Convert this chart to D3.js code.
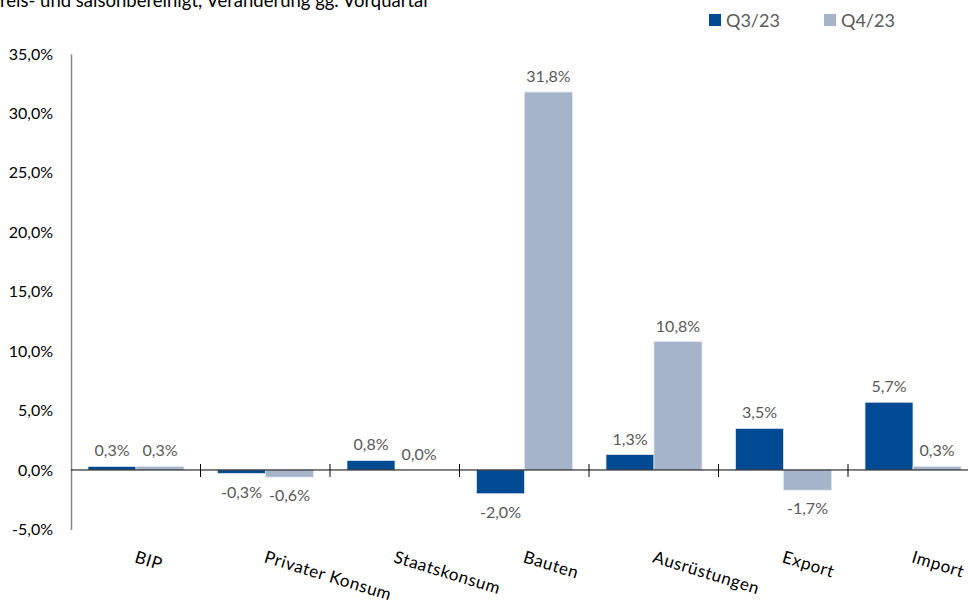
<!DOCTYPE html>
<html>
<head>
<meta charset="utf-8">
<script src="https://cdn.jsdelivr.net/npm/d3@7"></script>
<style>
  body { margin: 0; background: #fff; }
  svg { display: block; font-family: Lato, "Open Sans", sans-serif; }
</style>
</head>
<body>
<script>
// categories and values
var categories = ["BIP", "Privater Konsum", "Staatskonsum", "Bauten", "Ausrüstungen", "Export", "Import"];
var seriesNames = ["Q3/23", "Q4/23"];
var q3 = [0.3, -0.3, 0.8, -2.0, 1.3, 3.5, 5.7];
var q4 = [0.3, -0.6, 0.0, 31.8, 10.8, -1.7, 0.3];
var yTicks = [-5, 0, 5, 10, 15, 20, 25, 30, 35];
var colors = ["#004a93", "#a6b4ca"];

var width = 968, height = 605;

var de = d3.formatLocale({ decimal: ",", thousands: ".", grouping: [3], currency: ["", "€"], minus: "-" });
var pct = function (v) { return de.format(".1f")(v) + "%"; };

var svg = d3.select("body").append("svg")
    .attr("width", width)
    .attr("height", height);

// scales
var x = d3.scaleBand().domain(categories).range([71, 977.5]).padding(0);
var xs = d3.scaleBand().domain(seriesNames).range([17, 113]).padding(0);
var y = d3.scaleLinear().domain([-5, 35]).range([529.4, 54]);

// subtitle, cut at the top as in the source
svg.append("text")
    .attr("x", -11)
    .attr("y", 7)
    .attr("font-size", 18.5)
    .attr("fill", "#000")
    .text("Preis- und saisonbereinigt, Veränderung gg. Vorquartal");

// legend
var legend = svg.append("g");
[[709, 0], [824, 1]].forEach(function (d) {
  legend.append("rect")
      .attr("x", d[0]).attr("y", 14)
      .attr("width", 12).attr("height", 12)
      .attr("fill", colors[d[1]]);
  legend.append("text")
      .attr("x", d[0] + 17).attr("y", 26.5)
      .attr("font-size", 18)
      .attr("fill", "#595959")
      .text(seriesNames[d[1]]);
});

// y axis
var yAxis = svg.append("g")
    .attr("transform", "translate(71,0)")
    .call(d3.axisLeft(y).tickValues(yTicks).tickSize(0).tickPadding(18).tickFormat(pct));
yAxis.select(".domain").attr("stroke", "#868686").attr("stroke-width", 1.5);
yAxis.selectAll("text")
    .attr("font-family", "Lato, sans-serif")
    .attr("font-size", 16)
    .attr("fill", "#000");

// bars
var rows = categories.map(function (c, i) { return { cat: c, vals: [q3[i], q4[i]] }; });

var groups = svg.selectAll("g.cat")
    .data(rows)
  .enter().append("g")
    .attr("class", "cat")
    .attr("transform", function (d) { return "translate(" + x(d.cat) + ",0)"; });

var bars = groups.selectAll("g.bar")
    .data(function (d) { return d.vals.map(function (v, j) { return { v: v, s: j }; }); })
  .enter().append("g")
    .attr("class", "bar");

bars.append("rect")
    .attr("x", function (d) { return xs(seriesNames[d.s]); })
    .attr("width", xs.bandwidth())
    .attr("y", function (d) { return y(Math.max(0, d.v)); })
    .attr("height", function (d) { return Math.abs(y(d.v) - y(0)); })
    .attr("fill", function (d) { return colors[d.s]; })
    .attr("stroke", "#dfe5ee")
    .attr("stroke-width", 0.8);

bars.append("text")
    .attr("x", function (d) { return xs(seriesNames[d.s]) + xs.bandwidth() / 2; })
    .attr("y", function (d) { return d.v < 0 ? y(d.v) + 24 : y(d.v) - 10; })
    .attr("text-anchor", "middle")
    .attr("font-size", 16)
    .attr("fill", "#595959")
    .text(function (d) { return pct(d.v); });

// x axis on the zero line
var xAxis = svg.append("g")
    .attr("transform", "translate(0," + y(0) + ")");
xAxis.append("line")
    .attr("x1", 71).attr("x2", width)
    .attr("stroke", "#000").attr("stroke-width", 1);
xAxis.selectAll("line.tick")
    .data(categories.slice(1))
  .enter().append("line")
    .attr("class", "tick")
    .attr("x1", function (d) { return x(d); })
    .attr("x2", function (d) { return x(d); })
    .attr("y1", -6).attr("y2", 7)
    .attr("stroke", "#000");

// rotated category labels
svg.selectAll("text.cat")
    .data(categories)
  .enter().append("text")
    .attr("class", "cat")
    .attr("transform", function (d) { return "translate(" + (x(d) + x.bandwidth() / 2 - 2) + ",562) rotate(17)"; })
    .attr("font-size", 17)
    .attr("letter-spacing", 0.6)
    .attr("fill", "#000")
    .text(function (d) { return d; });
</script>
</body>
</html>
